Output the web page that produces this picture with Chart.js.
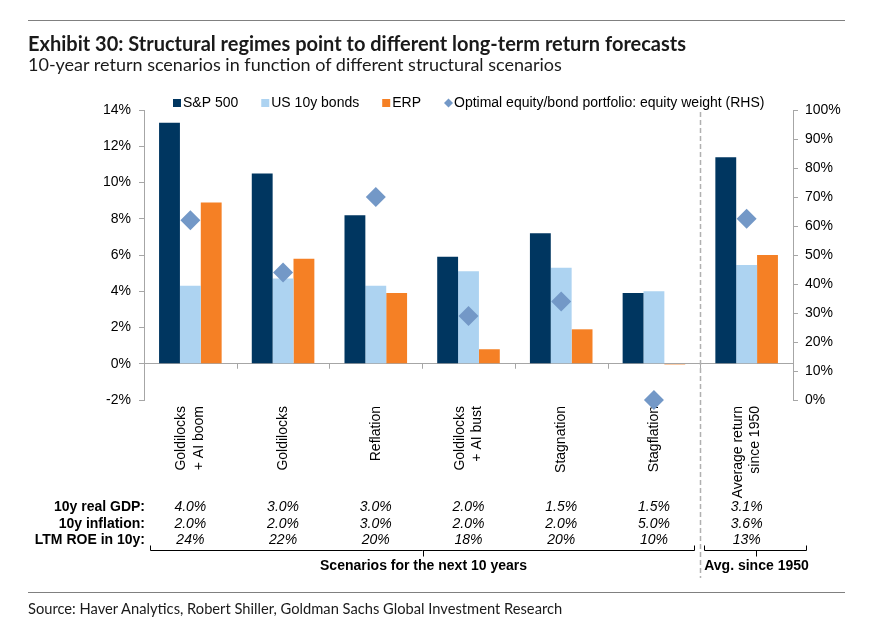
<!DOCTYPE html>
<html>
<head>
<meta charset="utf-8">
<script src="https://cdn.jsdelivr.net/npm/chart.js@4.4.1/dist/chart.umd.min.js"></script>
<style>
  body { margin: 0; background: #fff; }
  #wrap { position: relative; width: 870px; height: 627px; overflow: hidden; }
  #chartBox { position: absolute; left: 0; top: 0; width: 870px; height: 627px; }
  .rule { position: absolute; left: 28px; width: 817px; height: 0; border-top: 1.5px solid #808080; }
  #title { position: absolute; left: 28px; top: 31px; font: bold 20px Lato, sans-serif; color: #1a1a1a; white-space: nowrap; }
  #subtitle { position: absolute; left: 28px; top: 53px; font: 18px Lato, sans-serif; color: #1a1a1a; white-space: nowrap; }
  #source { position: absolute; left: 28px; top: 599px; font: 14.7px Lato, sans-serif; color: #1a1a1a; white-space: nowrap; }
</style>
</head>
<body>
<div id="wrap">
  <div id="chartBox"><canvas id="returnsChart"></canvas></div>
  <div class="rule" style="top:20px"></div>
  <div id="title">Exhibit 30: Structural regimes point to different long-term return forecasts</div>
  <div id="subtitle">10-year return scenarios in function of different structural scenarios</div>
  <div class="rule" style="top:592px"></div>
  <div id="source">Source: Haver Analytics, Robert Shiller, Goldman Sachs Global Investment Research</div>
</div>
<script>
// Scenario data
const scenarios = [
  ['Goldilocks', '+ AI boom'],
  ['Goldilocks'],
  ['Reflation'],
  ['Goldilocks', '+ AI bust'],
  ['Stagnation'],
  ['Stagflation'],
  ['Average return', 'since 1950']
];
const spxReturn = [13.3, 10.5, 8.2, 5.9, 7.2, 3.9, 11.4];
const bondReturn = [4.3, 4.7, 4.3, 5.1, 5.3, 4.0, 5.45];
const erpValues = [8.9, 5.8, 3.9, 0.8, 1.9, -0.05, 6.0];
const equityWeight = [62, 44, 70, 29, 34, 0, 62.5];

// Assumption rows under the chart
const realGdp = ['4.0%', '3.0%', '3.0%', '2.0%', '1.5%', '1.5%', '3.1%'];
const inflation = ['2.0%', '2.0%', '3.0%', '2.0%', '2.0%', '5.0%', '3.6%'];
const roe = ['24%', '22%', '20%', '18%', '20%', '10%', '13%'];
const rowLabels = ['10y real GDP:', '10y inflation:', 'LTM ROE in 10y:'];

const legendItems = [
  { text: 'S&P 500', color: '#003660', shape: 'rect' },
  { text: 'US 10y bonds', color: '#ADD3F1', shape: 'rect' },
  { text: 'ERP', color: '#F58025', shape: 'rect' },
  { text: 'Optimal equity/bond portfolio: equity weight (RHS)', color: '#7398C7', shape: 'diamond' }
];

const FONT = "'Liberation Sans', Arial, sans-serif";
const GREY = '#A6A6A6';

// legend, category labels, table, brackets and separators drawn on top of the chart
const extrasPlugin = {
  id: 'extras',
  beforeDatasetsDraw(chart) {
    // category labels go under the marks so the 0% diamond can overlap them
    const ctx = chart.ctx;
    const xs = chart.scales.x;
    ctx.save();
    ctx.font = '14px ' + FONT;
    ctx.fillStyle = '#000';
    scenarios.forEach((lines, i) => {
      ctx.save();
      ctx.translate(xs.getPixelForValue(i), 406);
      ctx.rotate(-Math.PI / 2);
      ctx.textAlign = 'right';
      ctx.textBaseline = 'middle';
      lines.forEach((t, k) => ctx.fillText(t, 0, (k - (lines.length - 1) / 2) * 17.5));
      ctx.restore();
    });
    ctx.restore();
  },
  afterDraw(chart) {
    const ctx = chart.ctx;
    const xs = chart.scales.x;
    const ys = chart.scales.y;
    const area = chart.chartArea;
    const px = i => xs.getPixelForValue(i);
    const y0 = ys.getPixelForValue(0);
    ctx.save();

    // legend
    ctx.font = '14px ' + FONT;
    ctx.textBaseline = 'middle';
    ctx.textAlign = 'left';
    let lx = 173;
    const ly = 103;
    legendItems.forEach(item => {
      ctx.fillStyle = item.color;
      if (item.shape === 'rect') {
        ctx.fillRect(lx, ly - 4, 8, 8);
      } else {
        ctx.beginPath();
        ctx.moveTo(lx + 4.5, ly - 4.5);
        ctx.lineTo(lx + 9, ly);
        ctx.lineTo(lx + 4.5, ly + 4.5);
        ctx.lineTo(lx, ly);
        ctx.closePath();
        ctx.fill();
      }
      ctx.fillStyle = '#000';
      ctx.fillText(item.text, lx + 10, ly + 0.5);
      lx += 10 + ctx.measureText(item.text).width + 23;
    });

    // small ticks under the zero line between categories
    ctx.strokeStyle = GREY;
    ctx.lineWidth = 1;
    for (let i = 1; i < scenarios.length; i++) {
      const bx = Math.round((px(i - 1) + px(i)) / 2) + 0.5;
      ctx.beginPath();
      ctx.moveTo(bx, y0);
      ctx.lineTo(bx, y0 + 5);
      ctx.stroke();
    }

    // dashed separator before the historical average
    const dashX = Math.round((px(5) + px(6)) / 2) + 0.5;
    ctx.strokeStyle = '#B0B0B0';
    ctx.lineWidth = 1.5;
    ctx.setLineDash([5, 3]);
    ctx.beginPath();
    ctx.moveTo(dashX, area.top + 2);
    ctx.lineTo(dashX, 578);
    ctx.stroke();
    ctx.setLineDash([]);

    // assumption table
    const rows = [realGdp, inflation, roe];
    const rowY = [507, 524, 540];
    ctx.textBaseline = 'middle';
    rows.forEach((row, r) => {
      ctx.font = 'bold 14px ' + FONT;
      ctx.textAlign = 'right';
      ctx.fillStyle = '#000';
      ctx.fillText(rowLabels[r], area.left + 1, rowY[r]);
      ctx.font = 'italic 14px ' + FONT;
      ctx.textAlign = 'center';
      row.forEach((v, i) => ctx.fillText(v, px(i), rowY[r]));
    });

    // brackets
    const bracket = (x1, x2, label) => {
      const by = 550.5;
      const mid = Math.round((x1 + x2) / 2) + 0.5;
      ctx.strokeStyle = '#000';
      ctx.lineWidth = 1;
      ctx.beginPath();
      ctx.moveTo(x1, by - 5);
      ctx.lineTo(x1, by);
      ctx.lineTo(x2, by);
      ctx.lineTo(x2, by - 5);
      ctx.moveTo(mid, by);
      ctx.lineTo(mid, by + 6);
      ctx.stroke();
      ctx.font = 'bold 14px ' + FONT;
      ctx.textAlign = 'center';
      ctx.fillStyle = '#000';
      ctx.fillText(label, mid, 566);
    };
    bracket(area.left + 6.5, dashX - 6, 'Scenarios for the next 10 years');
    bracket(dashX + 4, area.right + 13.5, 'Avg. since 1950');

    ctx.restore();
  }
};

const ctx = document.getElementById('returnsChart').getContext('2d');
const returnsChart = new Chart(ctx, {
  data: {
    labels: scenarios,
    datasets: [
      { type: 'line', label: 'Optimal equity/bond portfolio: equity weight (RHS)', data: equityWeight, yAxisID: 'y1',
        showLine: false, pointStyle: 'rectRot', pointRadius: 10, pointHoverRadius: 10, clip: false,
        pointBackgroundColor: '#7398C7', pointBorderWidth: 0, borderColor: '#7398C7', order: 0 },
      { type: 'bar', label: 'S&P 500', data: spxReturn, backgroundColor: '#003660', yAxisID: 'y', order: 1 },
      { type: 'bar', label: 'US 10y bonds', data: bondReturn, backgroundColor: '#ADD3F1', yAxisID: 'y', order: 1 },
      { type: 'bar', label: 'ERP', data: erpValues, backgroundColor: '#F58025', yAxisID: 'y', order: 1 }
    ]
  },
  options: {
    responsive: true,
    maintainAspectRatio: false,
    animation: false,
    layout: { padding: { top: 110, left: 0, right: 0, bottom: 0 } },
    datasets: { bar: { categoryPercentage: 0.675, barPercentage: 1 } },
    plugins: { legend: { display: false }, tooltip: { enabled: false } },
    scales: {
      x: {
        grid: { display: false, drawTicks: false },
        border: { display: false },
        ticks: { display: false },
        afterFit: s => { s.height = 227; }
      },
      y: {
        position: 'left',
        min: -2, max: 14,
        ticks: { stepSize: 2, padding: 8, color: '#000', font: { family: FONT, size: 14 },
                 callback: v => v + '%' },
        grid: { drawOnChartArea: true, tickLength: 5, tickColor: GREY,
                color: c => (c.tick && c.tick.value === 0 ? GREY : 'rgba(0,0,0,0)') },
        border: { display: true, color: GREY },
        afterFit: s => { s.width = 144; }
      },
      y1: {
        position: 'right',
        min: 0, max: 100,
        ticks: { stepSize: 10, padding: 7, color: '#000', font: { family: FONT, size: 14 },
                 callback: v => v + '%' },
        grid: { drawOnChartArea: false, tickLength: 5, tickColor: GREY },
        border: { display: true, color: GREY },
        afterFit: s => { s.width = 77; }
      }
    }
  },
  plugins: [extrasPlugin]
});
</script>
</body>
</html>
